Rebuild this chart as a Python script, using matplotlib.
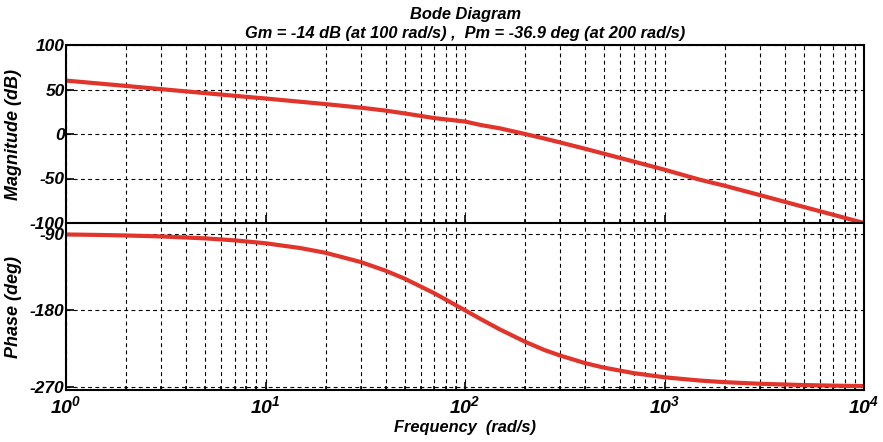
import numpy as np
import matplotlib.pyplot as plt
from matplotlib.ticker import LogLocator, NullFormatter, FixedLocator

# --- values ---
freq = [1, 1.5, 2, 3, 5, 7, 10, 15, 20, 30, 40, 50, 70, 100, 120, 150, 200,
        250, 300, 400, 500, 700, 1000, 1500, 2000, 3000, 5000, 7000, 10000]
mag_db = [60.0, 56.5, 54.0, 50.4, 45.9, 42.9, 39.9, 36.2, 33.6, 29.6, 26.3,
          23.1, 17.9, 14.0, 10.1, 6.3, 0.0, -5.1, -9.5, -16.6, -22.3, -30.9,
          -40.1, -51.3, -58.1, -68.6, -82.0, -90.7, -100.0]
phase_deg = [-91.1, -91.7, -92.3, -93.4, -95.7, -98.0, -101.4, -107.1, -112.6,
             -123.4, -133.6, -143.1, -159.9, -180.0, -190.4, -202.6, -216.9,
             -226.6, -233.1, -242.0, -247.4, -253.7, -258.6, -262.4, -264.3,
             -266.2, -267.7, -268.4, -268.9]

mag_ticks = [100, 50, 0, -50, -100]
phase_ticks = [-90, -180, -270]

plt.rcParams['mathtext.fontset'] = 'custom'
plt.rcParams['mathtext.rm'] = 'Liberation Sans:bold:italic'
plt.rcParams['mathtext.it'] = 'Liberation Sans:bold:italic'
plt.rcParams['mathtext.bf'] = 'Liberation Sans:bold:italic'

red = '#e1342b'
font = dict(family='Liberation Sans', weight='bold', style='italic')

fig = plt.figure(figsize=(8.83, 4.42), dpi=100)
W, H = 883, 442
ax1 = fig.add_axes([66 / W, 1 - 223 / H, (864 - 66) / W, (223 - 45) / H])
ax2 = fig.add_axes([66 / W, 1 - 390 / H, (864 - 66) / W, (390 - 225) / H])


def style(ax):
    ax.set_xscale('log')
    ax.set_xlim(1, 1e4)
    ax.xaxis.set_major_locator(LogLocator(base=10))
    ax.xaxis.set_minor_locator(LogLocator(base=10, subs=np.arange(2, 10)))
    ax.xaxis.set_minor_formatter(NullFormatter())
    ax.grid(True, which='both', axis='x', color='black', linestyle=(0, (3.5, 3)), linewidth=0.8)
    ax.grid(True, which='major', axis='y', color='black', linestyle=(0, (3.5, 3)), linewidth=0.8)
    ax.tick_params(which='both', direction='in', top=False, right=False, width=1.2)
    ax.tick_params(which='major', length=6)
    ax.tick_params(which='minor', length=3)
    for sp in ax.spines.values():
        sp.set_linewidth(1.5)


# magnitude
ax1.plot(freq, mag_db, color=red, linewidth=3)
style(ax1)
ax1.set_ylim(-100, 100)
ax1.yaxis.set_major_locator(FixedLocator(mag_ticks))
ax1.set_yticklabels([str(t) for t in mag_ticks], **font, fontsize=12.5)
ax1.tick_params(axis='y', pad=1)
ax1.set_xticklabels([])
ax1.set_ylabel('Magnitude (dB)', **font, fontsize=13, labelpad=6)
ax1.set_title('Bode Diagram\nGm = -14 dB (at 100 rad/s) ,  Pm = -36.9 deg (at 200 rad/s)',
              **font, fontsize=11.8, linespacing=1.35, pad=5)

# phase
ax2.plot(freq, phase_deg, color=red, linewidth=3)
style(ax2)
ax2.set_ylim(-273.5, -80)
ax2.yaxis.set_major_locator(FixedLocator(phase_ticks))
ax2.set_yticklabels([str(t) for t in phase_ticks], **font, fontsize=12.5)
ax2.tick_params(axis='y', pad=1)
ax2.spines['top'].set_visible(False)
ax2.set_xticks([1, 10, 100, 1000, 10000])
ax2.set_xticklabels([r'$10^{%d}$' % k for k in range(5)], fontsize=14)
ax2.tick_params(axis='x', pad=4)
ax2.set_ylabel('Phase (deg)', **font, fontsize=13, labelpad=6)
ax2.set_xlabel('Frequency  (rad/s)', **font, fontsize=11.8, labelpad=2)

fig.savefig('out.png', dpi=100)
